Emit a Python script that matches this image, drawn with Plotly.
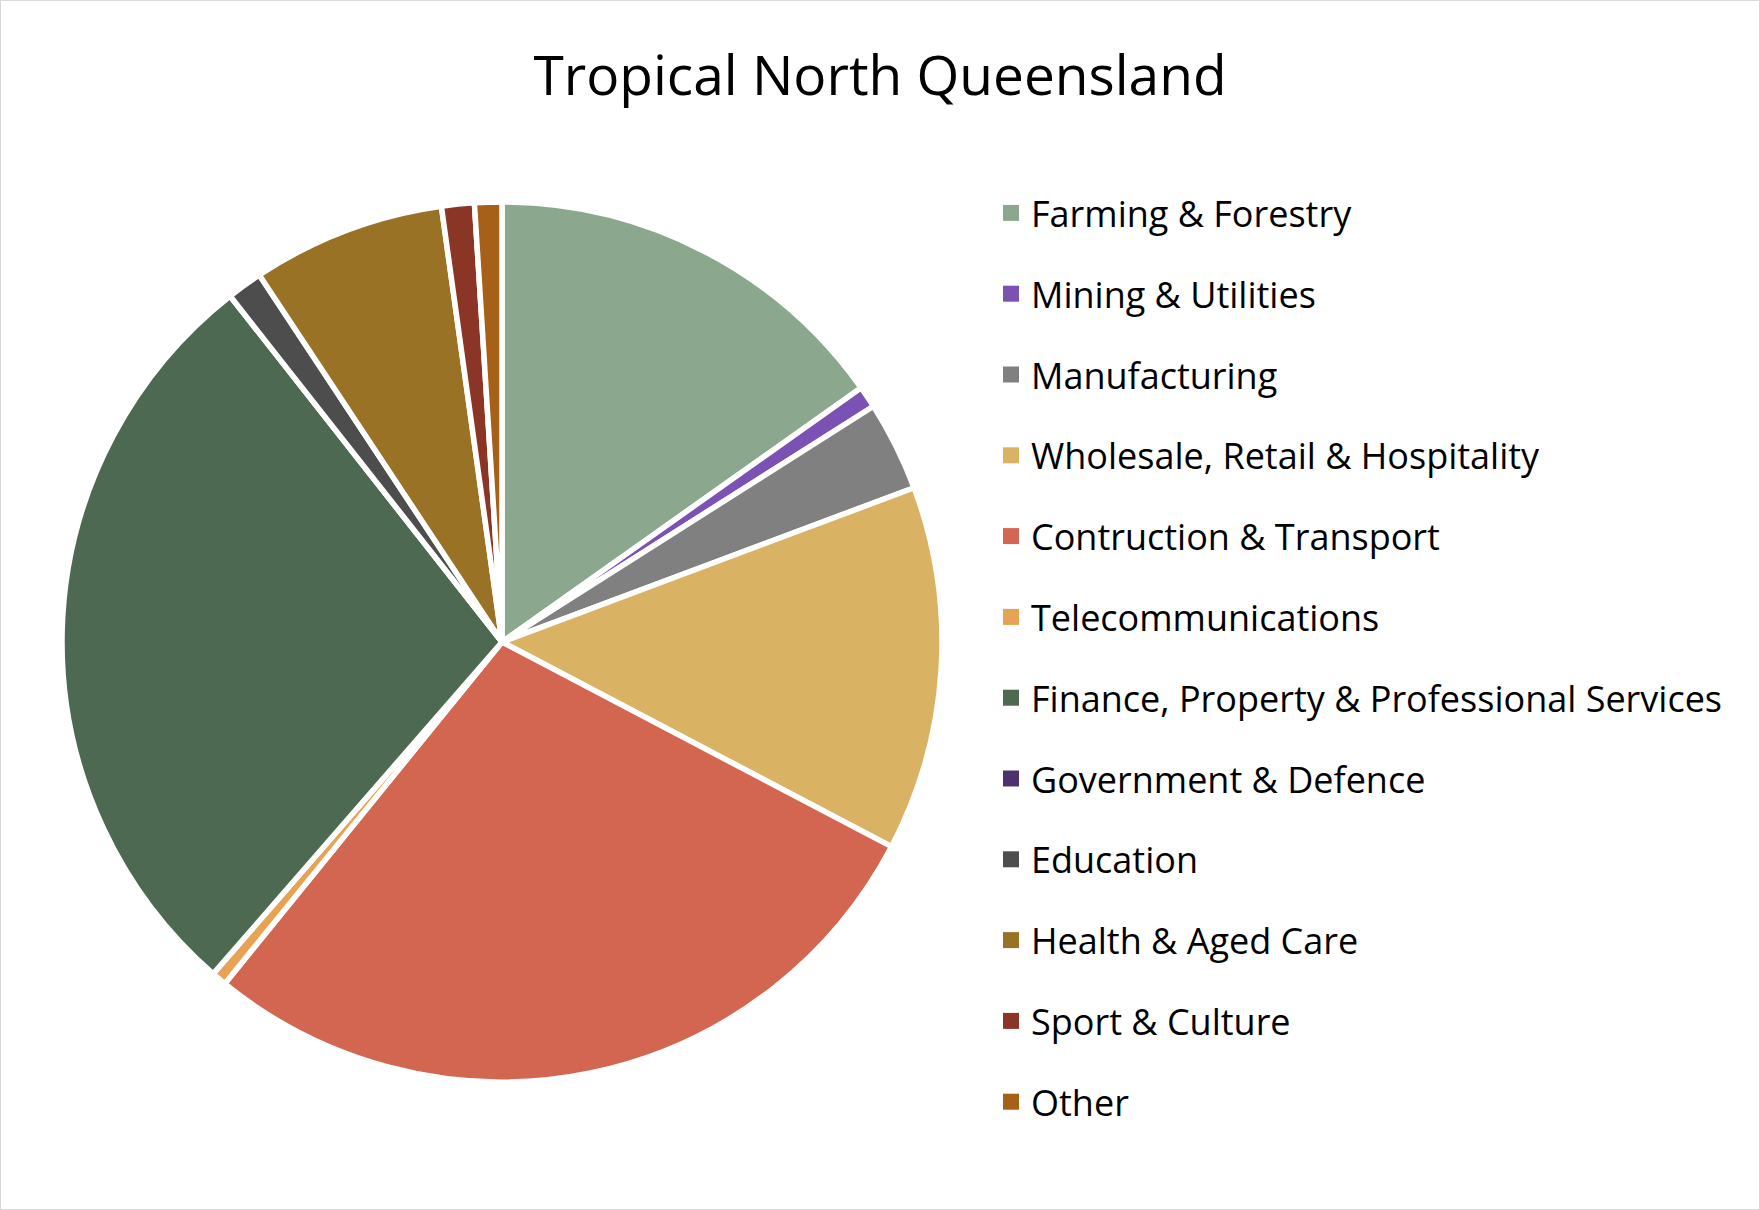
import plotly.graph_objects as go

categories = [
    "Farming & Forestry",
    "Mining & Utilities",
    "Manufacturing",
    "Wholesale, Retail & Hospitality",
    "Contruction & Transport",
    "Telecommunications",
    "Finance, Property & Professional Services",
    "Government & Defence",
    "Education",
    "Health & Aged Care",
    "Sport & Culture",
    "Other",
]
shares = [15.2, 0.8, 3.3, 13.4, 28.15, 0.55, 28.0, 0.0, 1.3, 7.1, 1.2, 1.0]
colors = [
    "#8BA88E", "#7B52B4", "#808080", "#DAB263", "#D26651", "#E8A253",
    "#4E6951", "#4E306B", "#4D4D4D", "#997226", "#8B3526", "#A66018",
]
title_text = "Tropical North Queensland"

W, H = 1760, 1210
FONT = "'Open Sans', 'Noto Sans', sans-serif"

fig = go.Figure()
fig.add_trace(
    go.Pie(
        labels=categories,
        values=shares,
        sort=False,
        direction="clockwise",
        rotation=0,
        textinfo="none",
        showlegend=False,
        hovertemplate="%{label}: %{value}<extra></extra>",
        marker=dict(colors=colors, line=dict(color="white", width=5.5)),
        domain=dict(x=[62 / W, 942 / W], y=[128 / H, 1008 / H]),
    )
)

# legend entries (one per category) so that the row spacing can match the reference
for i, (name, col) in enumerate(zip(categories, colors)):
    fig.add_trace(
        go.Scatter(
            x=[None], y=[None], mode="markers", name=name,
            legendgroup=f"g{i}",
            marker=dict(symbol="square", size=16, color=col),
            hoverinfo="skip",
        )
    )

fig.update_layout(
    width=W,
    height=H,
    margin=dict(l=0, r=0, t=0, b=0),
    paper_bgcolor="white",
    plot_bgcolor="rgba(0,0,0,0)",
    xaxis=dict(visible=False),
    yaxis=dict(visible=False),
    font=dict(family=FONT, color="black"),
    title=dict(
        text=title_text,
        x=0.5,
        xanchor="center",
        y=1 - 76 / H,
        yanchor="middle",
        font=dict(size=55, family=FONT, color="black"),
    ),
    legend=dict(
        x=991 / W,
        xanchor="left",
        y=1 - 183 / H,
        yanchor="top",
        font=dict(size=36, family=FONT, color="black"),
        bgcolor="rgba(0,0,0,0)",
        tracegroupgap=31,
        itemclick=False,
        itemdoubleclick=False,
    ),
    shapes=[
        dict(
            type="rect", xref="paper", yref="paper",
            x0=0, x1=1, y0=0, y1=1,
            line=dict(color="#D9D9D9", width=2),
            fillcolor="rgba(0,0,0,0)",
        )
    ],
)

fig.write_html(
    "out.html",
    config={"displayModeBar": False},
    post_script="document.body.style.margin='0';document.body.style.padding='0';",
)
